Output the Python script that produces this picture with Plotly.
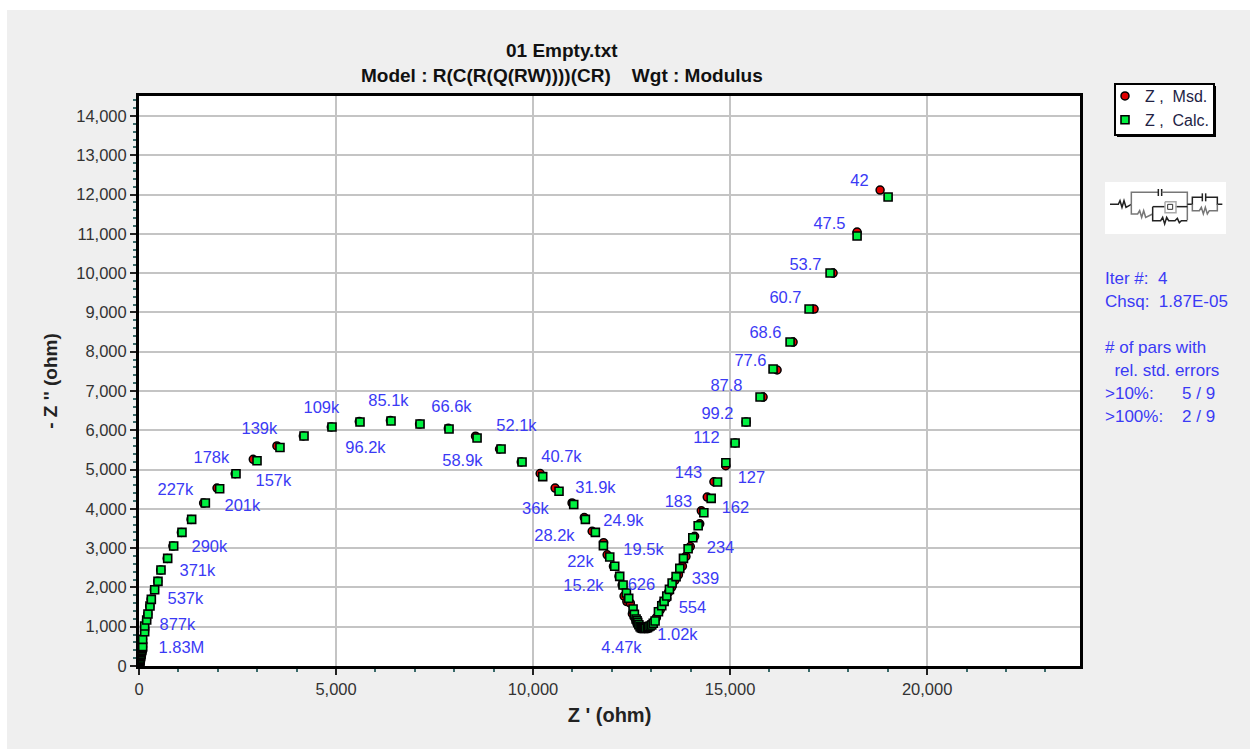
import plotly.graph_objects as go

# ---- data (ohm), high frequency to low frequency
calc_x = [4, 8, 12, 16, 20, 24, 28, 33, 38, 44, 50, 56, 62, 70, 78, 85, 93, 93, 144, 144, 195, 228, 279, 313, 398, 482, 558, 728, 880,
          1091, 1337, 1684, 2047, 2462, 2995, 3578, 4188, 4898, 5609, 6396, 7132, 7868, 8579, 9188, 9721, 10245, 10659,
          11032, 11328, 11582, 11785, 11946, 12073, 12199, 12284, 12369, 12428, 12538, 12572, 12614, 12640, 12657, 12685,
          12716, 12745, 12775, 12800, 12830, 12860, 12902, 12935, 12970, 13012, 13050, 13097, 13182, 13266, 13326, 13393,
          13461, 13529, 13630, 13724, 13817, 13935, 14054, 14190, 14334, 14520, 14681, 14893, 15127, 15406, 15761, 16091,
          16523, 17005, 17538, 18223, 19010]
calc_y = [15, 40, 65, 90, 115, 145, 175, 205, 235, 265, 300, 335, 370, 405, 440, 470, 492, 678, 873, 1018, 1170, 1323, 1526, 1696, 1942,
          2154, 2442, 2739, 3053, 3400, 3731, 4147, 4511, 4893, 5224, 5563, 5854, 6083, 6210, 6236, 6159, 6032, 5803, 5523,
          5192, 4819, 4446, 4112, 3732, 3402, 3063, 2774, 2537, 2282, 2061, 1858, 1722, 1451, 1315, 1196, 1150, 1103, 1050,
          1001, 975, 960, 958, 955, 960, 975, 1000, 1020, 1043, 1090, 1145, 1382, 1535, 1646, 1782, 1951, 2112, 2274, 2486,
          2740, 2986, 3266, 3571, 3902, 4267, 4683, 5175, 5676, 6210, 6846, 7559, 8246, 9086, 10002, 10944, 11937]
msd_x = [4, 8, 12, 16, 20, 24, 28, 33, 38, 44, 50, 56, 62, 70, 78, 85, 90, 90, 140, 140, 190, 222, 272, 305, 390, 475, 550, 715, 860,
         1075, 1320, 1640, 1980, 2440, 2900, 3500, 4170, 4880, 5590, 6380, 7120, 7850, 8540, 9150, 9700, 10180, 10560,
         10990, 11300, 11500, 11790, 11880, 12040, 12180, 12260, 12310, 12380, 12470, 12520, 12570, 12610, 12640, 12670,
         12700, 12740, 12770, 12800, 12830, 12860, 12900, 12940, 12980, 13040, 13080, 13130, 13230, 13300, 13390, 13440,
         13520, 13600, 13690, 13790, 13880, 13990, 14100, 14230, 14270, 14420, 14590, 14890, 15127, 15406, 15838, 16193,
         16599, 17132, 17614, 18223, 18807]
msd_y = [15, 40, 65, 90, 115, 145, 175, 205, 235, 265, 300, 335, 370, 405, 440, 470, 492, 678, 873, 1018, 1170, 1323, 1526, 1696, 1942,
         2154, 2442, 2739, 3053, 3400, 3731, 4147, 4530, 4893, 5260, 5600, 5854, 6083, 6220, 6250, 6159, 6050, 5850, 5523,
         5192, 4900, 4530, 4150, 3780, 3430, 3140, 2830, 2537, 2282, 2061, 1780, 1640, 1600, 1330, 1240, 1180, 1120, 1060,
         1010, 980, 960, 958, 955, 960, 980, 1010, 1050, 1100, 1160, 1230, 1430, 1620, 1720, 1880, 2010, 2180, 2320, 2540,
         2790, 3040, 3300, 3620, 3950, 4300, 4690, 5100, 5676, 6210, 6846, 7534, 8246, 9086, 10002, 11046, 12115]

freq_labels = ["42", "47.5", "53.7", "60.7", "68.6", "77.6", "87.8", "99.2", "112", "127", "143", "162", "183", "234",
               "339", "554", "1.02k", "4.47k", "626", "15.2k", "22k", "19.5k", "28.2k", "24.9k", "36k", "31.9k", "40.7k",
               "52.1k", "58.9k", "66.6k", "85.1k", "96.2k", "109k", "139k", "157k", "178k", "201k", "227k", "290k",
               "371k", "537k", "877k", "1.83M"]
label_x = [18284, 17522, 16913, 16405, 15898, 15517, 14908, 14680, 14400, 15542, 13944, 15136, 13690, 14756, 14375,
           14045, 13664, 12243, 12751, 11279, 11203, 12802, 10543, 12294, 10060, 11583, 10720, 9578, 8208, 7929, 6330,
           5746, 4629, 3056, 3411, 1837, 2624, 924, 1787, 1482, 1178, 974, 1076]
label_y = [12319, 11224, 10181, 9341, 8450, 7738, 7101, 6389, 5778, 4760, 4887, 3997, 4149, 2979, 2190, 1452, 764,
           434, 2037, 2011, 2622, 2928, 3284, 3666, 3971, 4505, 5295, 6083, 5193, 6567, 6720, 5524, 6542, 6007, 4684,
           5269, 4047, 4455, 3004, 2393, 1681, 1019, 434]

x_ticks = [0, 5000, 10000, 15000, 20000]
y_ticks = [0, 1000, 2000, 3000, 4000, 5000, 6000, 7000, 8000, 9000, 10000, 11000, 12000, 13000, 14000]
x_max = 23880
y_max = 14508
FONT = "Liberation Sans"
BLUE = "#3a3af5"

W, H = 1250, 749
L, R, T, B = 139, 1080, 96, 666


def px(x):
    return (x - L) / (R - L)


def py(y):
    return (B - y) / (B - T)


fig = go.Figure()
fig.add_trace(go.Scatter(x=msd_x, y=msd_y, mode="markers", name="Z ,  Msd.",
                         marker=dict(symbol="circle", size=8, color="#e00000", line=dict(color="black", width=1.5))))
fig.add_trace(go.Scatter(x=calc_x, y=calc_y, mode="markers", name="Z ,  Calc.",
                         marker=dict(symbol="square", size=8, color="#00f040", line=dict(color="black", width=1.6))))
fig.add_trace(go.Scatter(x=label_x, y=label_y, mode="text", text=freq_labels, showlegend=False,
                         textposition="middle center", textfont=dict(family=FONT, size=16.5, color=BLUE)))

shapes = [
    dict(type="rect", xref="paper", yref="paper", x0=px(7), x1=px(1250), y0=py(10), y1=py(749),
         fillcolor="#efefef", line_width=0, layer="below"),
    dict(type="rect", xref="paper", yref="paper", x0=px(139), x1=px(1080), y0=py(96), y1=py(666),
         fillcolor="white", line_width=0, layer="below"),
    dict(type="rect", xref="paper", yref="paper", x0=px(1117), x1=px(1216), y0=py(86), y1=py(137),
         fillcolor="black", line_width=0),
    dict(type="rect", xref="paper", yref="paper", x0=px(1115), x1=px(1214), y0=py(84), y1=py(135),
         fillcolor="white", line=dict(color="black", width=2)),
    dict(type="rect", xref="paper", yref="paper", x0=px(1105), x1=px(1226), y0=py(182), y1=py(234),
         fillcolor="white", line_width=0),
]


def circuit(points, color="#222222", width=1.5):
    pts = [(px(1090 + a / 3), py(70 + b / 3)) for a, b in points]
    path = "M " + " L ".join(f"{p[0]:.5f},{p[1]:.5f}" for p in pts)
    shapes.append(dict(type="path", xref="paper", yref="paper", path=path, line=dict(color=color, width=width)))


circuit([(60, 403), (85, 403), (90, 392), (96, 412), (102, 392), (108, 412), (124, 403)])
circuit([(124, 403), (124, 367), (205, 367)], "#777777")
circuit([(205, 357), (205, 378)])
circuit([(215, 357), (215, 378)])
circuit([(215, 367), (292, 367), (292, 450)], "#777777")
circuit([(124, 403), (124, 432), (143, 432), (149, 422), (155, 442), (161, 422), (167, 442), (188, 432)], "#777777")
circuit([(188, 410), (188, 452), (212, 452), (218, 442), (224, 462), (230, 442), (236, 452), (255, 452), (262, 445),
         (268, 458), (274, 452), (292, 452)])
circuit([(188, 410), (225, 410)])
circuit([(257, 410), (292, 410)])
circuit([(225, 395), (258, 395), (258, 428), (225, 428), (225, 395)], "#aaaaaa", 1.5)
circuit([(233, 403), (248, 403), (248, 418), (233, 418), (233, 403)], "#333333", 1)
circuit([(292, 403), (307, 403), (307, 382), (337, 382)])
circuit([(337, 370), (337, 394)])
circuit([(347, 370), (347, 394)])
circuit([(347, 382), (382, 382), (382, 403), (397, 403)])
circuit([(307, 403), (307, 422), (328, 422), (334, 412), (340, 432), (346, 412), (352, 432), (358, 422), (382, 422),
         (382, 403)], "#777777")

annots = []
NB = "&nbsp;"
for text, x, y in [("Iter #:" + NB * 2 + "4", 1103, 278), ("Chsq:" + NB * 2 + "1.87E-05", 1103, 301),
                   ("# of pars with", 1103, 347), (NB * 2 + "rel. std. errors", 1103, 370),
                   (">10%:" + NB * 6 + "5 / 9", 1103, 393), (">100%:" + NB * 4 + "2 / 9", 1103, 416)]:
    annots.append(dict(text=text, xref="paper", yref="paper", x=px(x), y=py(y),
                       xanchor="left", yanchor="middle", showarrow=False,
                       font=dict(family=FONT, size=17, color=BLUE)))
annots.append(dict(text="<b>01 Empty.txt</b>", xref="paper", yref="paper", x=px(562), y=py(51), xanchor="center",
                   yanchor="middle", showarrow=False, font=dict(family=FONT, size=19, color="#111111")))
annots.append(dict(text="<b>Model : R(C(R(Q(RW))))(CR)" + NB * 4 + "Wgt : Modulus</b>", xref="paper", yref="paper",
                   x=px(562), y=py(75), xanchor="center", yanchor="middle", showarrow=False,
                   font=dict(family=FONT, size=19, color="#111111")))

fig.update_layout(
    width=W, height=H, margin=dict(l=L, r=W - R, t=T, b=H - B, pad=0),
    paper_bgcolor="white", plot_bgcolor="rgba(0,0,0,0)", shapes=shapes, annotations=annots,
    font=dict(family=FONT, color="#222222"),
    legend=dict(x=px(1105), y=py(79), xanchor="left", yanchor="top", bgcolor="rgba(0,0,0,0)", borderwidth=0,
                font=dict(family=FONT, size=16, color="#222244"), itemwidth=30, tracegroupgap=0),
)
fig.update_xaxes(range=[0, x_max], tickvals=x_ticks, ticktext=[f"{v:,}" for v in x_ticks], showgrid=True, gridcolor="#c4c4c4",
                 gridwidth=2, zeroline=False, showline=True, linecolor="black", linewidth=3, mirror=True, ticks="outside",
                 ticklen=6, tickwidth=1.5, tickcolor="#222222", tickfont=dict(family=FONT, size=16.5, color="#333333"),
                 minor=dict(dtick=1000, ticks="outside", ticklen=3, tickwidth=1.5, tickcolor="#3a6a6a", showgrid=False),
                 title=dict(text="<b>Z ' (ohm)</b>", font=dict(family=FONT, size=20, color="#222222"), standoff=12))
fig.update_yaxes(range=[0, y_max], tickvals=y_ticks, ticktext=[f"{v:,}" for v in y_ticks], showgrid=True, gridcolor="#c4c4c4",
                 gridwidth=2, zeroline=False, showline=True, linecolor="black", linewidth=3, mirror=True, ticks="outside",
                 ticklen=6, tickwidth=1.5, tickcolor="#222222", tickfont=dict(family=FONT, size=16.5, color="#333333"),
                 minor=dict(dtick=200, ticks="outside", ticklen=3, tickwidth=1.5, tickcolor="#3a6a6a", showgrid=False),
                 title=dict(text="<b>- Z '' (ohm)</b>", font=dict(family=FONT, size=19, color="#222222"), standoff=14))

fig.write_html("out.html", post_script="document.body.style.margin='0';", config=dict(displayModeBar=False))
